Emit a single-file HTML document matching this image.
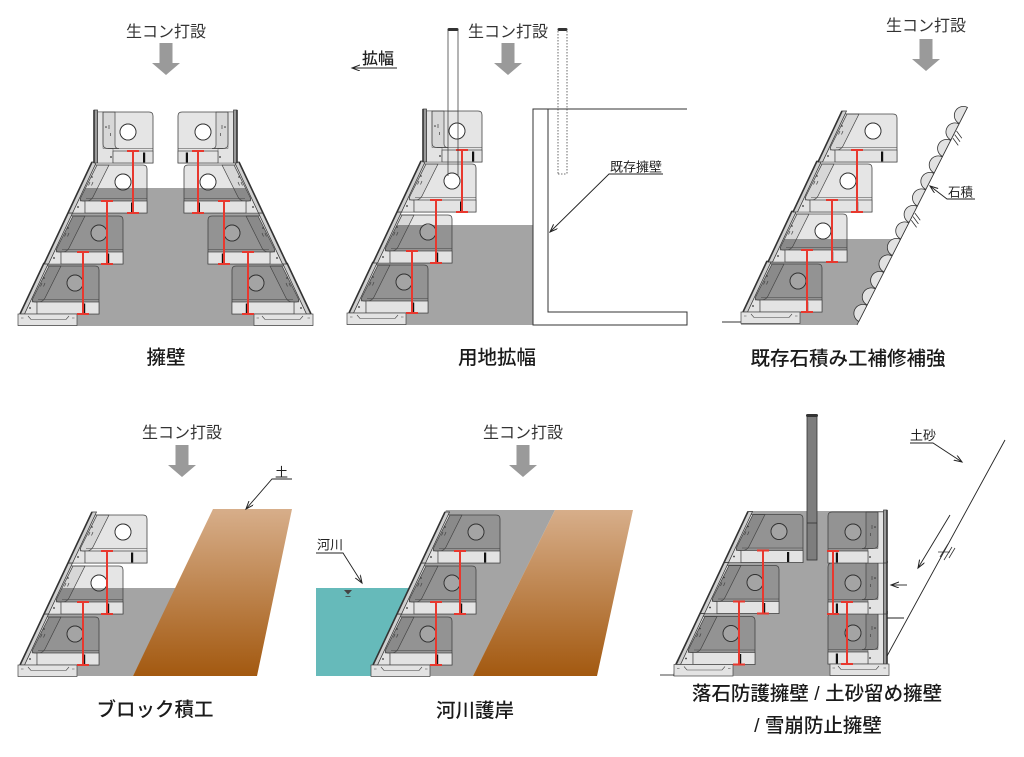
<!DOCTYPE html>
<html>
<head>
<meta charset="utf-8">
<style>
  html,body{margin:0;padding:0;background:#fff;}
  svg{display:block;}
  text{font-family:"Liberation Sans","Noto Sans CJK JP",sans-serif;fill:#222;}
  .lbl{font-size:16px;fill:#333;}
  .sm{font-size:13px;fill:#222;}
  .ttl{font-size:19.5px;font-weight:500;fill:#1a1a1a;}
</style>
</head>
<body>
<svg width="1024" height="757" viewBox="0 0 1024 757" xmlns="http://www.w3.org/2000/svg">
<defs>
  <marker id="ah" markerWidth="10" markerHeight="10" refX="8" refY="3" orient="auto" markerUnits="userSpaceOnUse">
    <path d="M0,0 L8,3 L0,6" fill="none" stroke="#222" stroke-width="1"/>
  </marker>
  <linearGradient id="soil" x1="0" y1="0" x2="0" y2="1">
    <stop offset="0" stop-color="#d7ae8a"/>
    <stop offset="1" stop-color="#a35910"/>
  </linearGradient>

  <!-- sloped block, origin = outer face bottom -->
  <g id="sb">
    <path d="M4.5,0 L27,-48 L75,-48 Q79,-48 79,-44 L79,0 Z M63,-31 a8,8 0 1,0 -16,0 a8,8 0 1,0 16,0 Z" fill="rgba(0,0,0,0.1)" fill-rule="evenodd" stroke="#444" stroke-width="0.8"/>
    <circle cx="55" cy="-31" r="8" fill="none" stroke="#333" stroke-width="0.9"/>
    <polygon points="4.5,0 27,-48 29,-48 13,-16 12,-12 17,-12 17,0" fill="#e3e3e3" stroke="#555" stroke-width="0.5"/>
    <path d="M29,-48 L41,-48 L25,-16 Q23,-12 18,-12 L15,-12 Q11,-12 13,-16 Z" fill="rgba(0,0,0,0.06)" stroke="#444" stroke-width="0.7"/>
    <path d="M18,-14.5 L79,-14.5" stroke="#444" stroke-width="0.6"/>
    <rect x="17" y="-12" width="62" height="12" fill="#e3e3e3" stroke="#444" stroke-width="0.7"/>
    <rect x="63" y="-10.5" width="2.2" height="10" fill="#111"/>
    <circle cx="10" cy="-6" r="0.9" fill="#333"/>
    <circle cx="24" cy="-36" r="0.8" fill="#333"/>
    <path d="M22,-31 L20.5,-27.5 M25,-31 L23.5,-27.5" stroke="#444" stroke-width="0.7"/>
    <polygon points="0,0 24,-51 28.5,-51 4.5,0" fill="#cfcfcf" stroke="#333" stroke-width="0.7"/>
    <path d="M0,0 L24,-51" stroke="#333" stroke-width="1.6"/>
  </g>

  <!-- vertical block, origin = outer face bottom -->
  <g id="vb">
    <path d="M3.5,0 L3.5,-51 L55,-51 Q59,-51 59,-47 L59,0 Z M42,-31 a8,8 0 1,0 -16,0 a8,8 0 1,0 16,0 Z" fill="rgba(0,0,0,0.1)" fill-rule="evenodd" stroke="#444" stroke-width="0.8"/>
    <circle cx="34" cy="-31" r="8" fill="none" stroke="#333" stroke-width="0.9"/>
    <polygon points="3.5,0 3.5,-51 9,-51 9,-14.5 19,-14.5 19,0" fill="#e3e3e3" stroke="#555" stroke-width="0.5"/>
    <path d="M9,-51 L21,-51 L21,-18 Q21,-14.5 25,-14.5 L14,-14.5 Q9,-14.5 9,-19 Z" fill="rgba(0,0,0,0.06)" stroke="#444" stroke-width="0.7"/>
    <path d="M14,-14.5 L59,-14.5" stroke="#444" stroke-width="0.6"/>
    <rect x="19" y="-12" width="40" height="12" fill="#e3e3e3" stroke="#444" stroke-width="0.7"/>
    <rect x="49" y="-10.5" width="2.2" height="10" fill="#111"/>
    <circle cx="17" cy="-6" r="0.9" fill="#333"/>
    <circle cx="12" cy="-36" r="0.8" fill="#333"/>
    <path d="M15,-38 L15,-34 M16.5,-30 L16.5,-27" stroke="#444" stroke-width="0.7"/>
    <rect x="0" y="-53" width="3.5" height="53" fill="#9a9a9a" stroke="#333" stroke-width="0.7"/>
    <path d="M0,0 L0,-53" stroke="#333" stroke-width="1.6"/>
  </g>

  <!-- base plate -->
  <g id="bp">
    <rect x="-2" y="0" width="59" height="11.5" fill="#e3e3e3" stroke="#444" stroke-width="0.7"/>
    <path d="M8,2 L11,5.5 L46,5.5 L49,2" fill="none" stroke="#444" stroke-width="0.6"/>
    <path d="M1,4 L3.5,4 M52,4 L54.5,4" stroke="#444" stroke-width="0.6"/>
  </g>

  <polygon id="down" points="-6.5,0 6.5,0 6.5,20 14,20 0,32 -14,20 -6.5,20" fill="#9a9a9a"/>

  <!-- panel 1 left stack -->
  <g id="lstack">
    <use href="#sb" x="20" y="314"/>
    <use href="#sb" x="44" y="264"/>
    <use href="#sb" x="68" y="213"/>
    <use href="#vb" x="94" y="163"/>
    <use href="#bp" x="20" y="314"/>
    <path d="M133,151V213M127,151H139M127,213H139 M107,201V264M101,201H113M101,264H113 M83,252V314M77,252H89M77,314H89" stroke="#e8382e" stroke-width="2" fill="none"/>
  </g>

  <!-- 3-row sloped stack (panel 4 coords) -->
  <g id="stack3">
    <use href="#sb" x="20" y="665"/>
    <use href="#sb" x="44" y="614"/>
    <use href="#sb" x="68" y="563"/>
    <use href="#bp" x="20" y="665"/>
    <path d="M107,551V614M101,551H113M101,614H113 M83,602V665M77,602H89M77,665H89" stroke="#e8382e" stroke-width="2" fill="none"/>
  </g>
</defs>

<!-- ================= Panel 1: 擁壁 ================= -->
<polygon points="80,188 251,188 311,314 313,326 18,326 20,314" fill="#a4a4a4"/>
<use href="#lstack"/>
<g transform="translate(331,0) scale(-1,1)"><use href="#lstack"/></g>
<text class="lbl" x="166" y="37" text-anchor="middle">生コン打設</text>
<use href="#down" x="166" y="43"/>
<text class="ttl" x="166" y="364" text-anchor="middle">擁壁</text>

<!-- ================= Panel 2: 用地拡幅 ================= -->
<polygon points="391,225 533,225 533,325 347,325 349,313" fill="#a4a4a4"/>
<g transform="translate(329,-1)"><use href="#lstack"/></g>
<rect x="448" y="30" width="10" height="81" fill="#fff" stroke="#444" stroke-width="0.8"/>
<path d="M448,111 L448,176 M458,111 L458,176" stroke="#444" stroke-width="0.8"/>
<rect x="447.5" y="28" width="11" height="3" rx="1.5" fill="#333"/>
<path d="M558,31 L558,174 M567,31 L567,174 M558,174 L567,174" stroke="#444" stroke-width="0.8" stroke-dasharray="1.5 1.5" fill="none"/>
<rect x="557.5" y="28" width="10" height="3" rx="1.5" fill="#333"/>
<path d="M533,109 L533,325 L687,325 L687,312 L548,312 L548,109 Z" fill="#fff" stroke="#333" stroke-width="1"/>
<path d="M533,109 L687,109" stroke="#333" stroke-width="1"/>
<text class="sm" x="610" y="171.5">既存擁壁</text>
<path d="M663,174 L609,174 L550,232" fill="none" stroke="#222" stroke-width="0.9" marker-end="url(#ah)"/>
<text x="378" y="64" text-anchor="middle" style="font-size:16px;font-weight:500;fill:#222;">拡幅</text>
<path d="M397,68 L352,68" stroke="#222" stroke-width="0.9" marker-end="url(#ah)"/>
<text class="lbl" x="508" y="37" text-anchor="middle">生コン打設</text>
<use href="#down" x="508" y="43"/>
<text class="ttl" x="497" y="364" text-anchor="middle">用地拡幅</text>

<!-- ================= Panel 3: 既存石積み工補修補強 ================= -->
<polygon points="779,239 900,239 857,325 741,325 743,312" fill="#a4a4a4"/>
<path d="M722,322 L743,322" stroke="#333" stroke-width="0.9"/>
<use href="#sb" x="743" y="312"/>
<use href="#sb" x="768" y="262"/>
<use href="#sb" x="793" y="212"/>
<use href="#sb" x="818" y="162"/>
<use href="#bp" x="743" y="312"/>
<path d="M857,150V212M851,150H863M851,212H863 M832,200V262M826,200H838M826,262H838 M807,250V312M801,250H813M801,312H813" stroke="#e8382e" stroke-width="2" fill="none"/>
<g transform="translate(857,325) rotate(-63.1)" stroke="#333" stroke-width="0.8">
  <path d="M0,0 L244,0" fill="none"/>
  <g fill="#e2e2e2">
    <path d="M4,0 A9,9 0 0 1 22,0 Z"/>
    <path d="M22.5,0 A9,9 0 0 1 40.5,0 Z"/>
    <path d="M41,0 A9,9 0 0 1 59,0 Z"/>
    <path d="M59.5,0 A9,9 0 0 1 77.5,0 Z"/>
    <path d="M78,0 A9,9 0 0 1 96,0 Z"/>
    <path d="M96.5,0 A9,9 0 0 1 114.5,0 Z"/>
    <path d="M115,0 A9,9 0 0 1 133,0 Z"/>
    <path d="M133.5,0 A9,9 0 0 1 151.5,0 Z"/>
    <path d="M152,0 A9,9 0 0 1 170,0 Z"/>
    <path d="M170.5,0 A9,9 0 0 1 188.5,0 Z"/>
    <path d="M189,0 A9,9 0 0 1 207,0 Z"/>
    <path d="M207.5,0 A9,9 0 0 1 225.5,0 Z"/>
    <path d="M226,0 A9,9 0 0 1 244,0 Z"/>
  </g>
  <path d="M118,1 L114,9 M122,1 L118,9 M126,1 L122,9 M210,1 L206,9 M214,1 L210,9 M218,1 L214,9" fill="none"/>
</g>
<text x="948" y="196.5" style="font-size:12.5px;fill:#222;">石積</text>
<path d="M975,199 L947,199 L930,186" fill="none" stroke="#222" stroke-width="0.9" marker-end="url(#ah)"/>
<text class="lbl" x="926" y="31" text-anchor="middle">生コン打設</text>
<use href="#down" x="926" y="39"/>
<text class="ttl" x="848" y="365" text-anchor="middle">既存石積み工補修補強</text>

<!-- ================= Panel 4: ブロック積工 ================= -->
<polygon points="56,588 176,588 133,676 18,676 20,665" fill="#a4a4a4"/>
<polygon points="213,509 292,509 257,676 133,676" fill="url(#soil)"/>
<use href="#stack3"/>
<text class="sm" x="275" y="477">土</text>
<path d="M292,479 L272,479 L246,509" fill="none" stroke="#222" stroke-width="0.9" marker-end="url(#ah)"/>
<text class="lbl" x="182" y="438" text-anchor="middle">生コン打設</text>
<use href="#down" x="182" y="445"/>
<text class="ttl" x="155" y="716" text-anchor="middle">ブロック積工</text>

<!-- ================= Panel 5: 河川護岸 ================= -->
<polygon points="316,588 409,588 373,665 371,676 316,676" fill="#66baba"/>
<polygon points="446,510 555,510 473,676 371,676 373,665" fill="#a4a4a4"/>
<polygon points="555,510 633,510 597,676 473,676" fill="url(#soil)"/>
<g transform="translate(353,0)"><use href="#stack3"/></g>
<path d="M344,590 L352,590 L348,594.5 Z" fill="#444"/>
<path d="M345.5,596.5 L350.5,596.5" stroke="#444" stroke-width="0.8"/>
<text class="sm" x="317" y="549.5">河川</text>
<path d="M316,553 L343,553 L362,583" fill="none" stroke="#222" stroke-width="0.9" marker-end="url(#ah)"/>
<text class="lbl" x="523" y="438" text-anchor="middle">生コン打設</text>
<use href="#down" x="523" y="445"/>
<text class="ttl" x="475" y="717" text-anchor="middle">河川護岸</text>

<!-- ================= Panel 6 ================= -->
<polygon points="749,511 887,511 887,676 673,676 675,664" fill="#a4a4a4"/>
<path d="M660,675 L675,675" stroke="#333" stroke-width="0.9"/>
<g transform="translate(656,-0.5)"><use href="#stack3"/></g>
<g transform="translate(887,0) scale(-1,1)">
  <use href="#vb" x="0" y="664"/>
  <use href="#vb" x="0" y="614"/>
  <use href="#vb" x="0" y="563"/>
  <use href="#bp" x="0" y="664"/>
</g>
<path d="M833,551V614M827,551H839M827,614H839 M847,602V664M841,602H853M841,664H853" stroke="#e8382e" stroke-width="2" fill="none"/>
<rect x="807" y="416" width="10" height="144" fill="#7d7d7d" stroke="#333" stroke-width="0.8"/>
<path d="M807,523 L817,523" stroke="#333" stroke-width="0.8"/>
<rect x="806" y="414" width="12" height="3" rx="1.5" fill="#333"/>
<path d="M1005,440 L887,656" stroke="#222" stroke-width="0.9"/>
<path d="M887,618 L904,618" stroke="#222" stroke-width="0.9"/>
<path d="M950,515 L918,568" stroke="#222" stroke-width="0.9" marker-end="url(#ah)"/>
<path d="M940,557 L948,544 M944,560 L952,547 M949,558 L955,548 M938,552 L950,552" stroke="#333" stroke-width="0.8" fill="none"/>
<path d="M907,585 L891,585" stroke="#222" stroke-width="0.9" marker-end="url(#ah)"/>
<text class="sm" x="910" y="440">土砂</text>
<path d="M910,443 L933,443 L962,462" fill="none" stroke="#222" stroke-width="0.9" marker-end="url(#ah)"/>
<text class="ttl" x="817" y="700" text-anchor="middle">落石防護擁壁 / 土砂留め擁壁</text>
<text class="ttl" x="818" y="732" text-anchor="middle">/ 雪崩防止擁壁</text>
</svg>
</body>
</html>
